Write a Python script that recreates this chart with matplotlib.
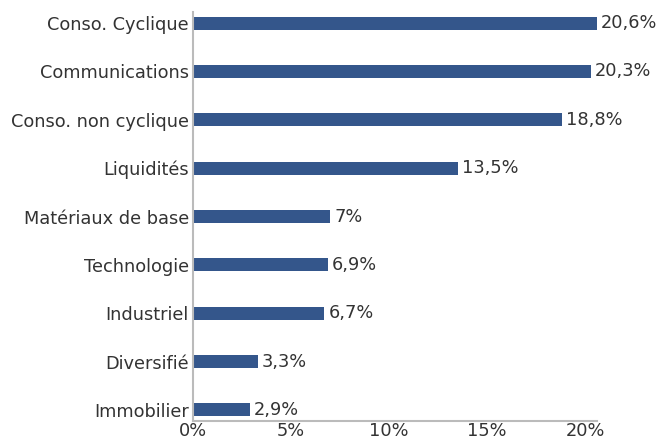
import matplotlib
matplotlib.use("Agg")
import matplotlib.pyplot as plt
from matplotlib.ticker import FuncFormatter

# sectors, top to bottom
sectors = ["Conso. Cyclique", "Communications", "Conso. non cyclique", "Liquidités",
           "Matériaux de base", "Technologie", "Industriel", "Diversifié", "Immobilier"]
weights = [20.6, 20.3, 18.8, 13.5, 7.0, 6.9, 6.7, 3.3, 2.9]
value_labels = ["20,6%", "20,3%", "18,8%", "13,5%", "7%", "6,9%", "6,7%", "3,3%", "2,9%"]
xticks = [0, 5, 10, 15, 20]

bar_color = "#34568B"
text_color = "#333333"
spine_color = "#bbbbbb"
fs = 12.8

fig = plt.figure(figsize=(6.58, 4.38), dpi=100)
ax = fig.add_axes([193 / 658, 17 / 438, (597 - 193) / 658, (421 - 12) / 438])

ypos = list(range(len(sectors)))[::-1]
ax.barh(ypos, weights, height=0.27, color=bar_color)

for y, w, lab in zip(ypos, weights, value_labels):
    ax.text(w + 0.2, y, lab, va="center", ha="left", fontsize=fs, color=text_color)

ax.set_xlim(0, max(weights))
ax.set_ylim(-0.23, len(sectors) - 1 + 0.23)
ax.set_yticks(ypos)
ax.set_yticklabels(sectors)
ax.set_xticks(xticks)
ax.xaxis.set_major_formatter(FuncFormatter(lambda v, p: f"{v:g}%"))
ax.tick_params(length=0, labelsize=fs, colors=text_color, pad=3)
ax.tick_params(axis="x", pad=1)

for s in ["top", "right"]:
    ax.spines[s].set_visible(False)
for s in ["left", "bottom"]:
    ax.spines[s].set_color(spine_color)
    ax.spines[s].set_linewidth(1.5)

fig.savefig("out.png", dpi=100)
